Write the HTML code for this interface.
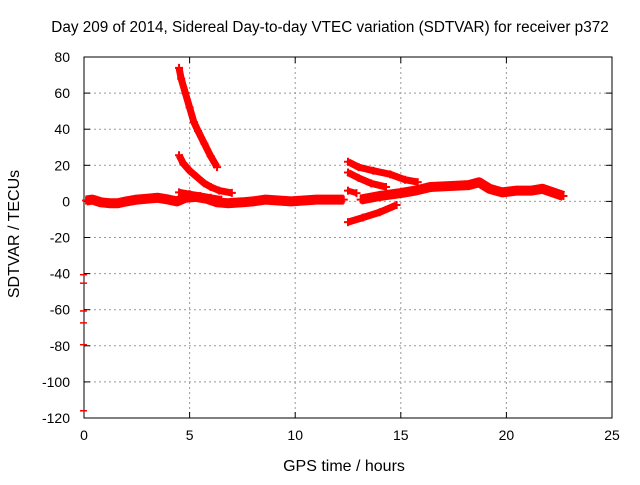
<!DOCTYPE html>
<html><head><meta charset="utf-8"><style>
body{margin:0;background:#fff}
svg text{font-family:"Liberation Sans",sans-serif;font-size:14px;fill:#000}
svg text.big{font-size:16px}
svg text.title{font-size:15.3px}
</style></head><body>
<svg id="chart" width="640" height="480" xmlns="http://www.w3.org/2000/svg">
<rect width="640" height="480" fill="#fff"/>
<text class="title" x="330" y="32" text-anchor="middle">Day 209 of 2014, Sidereal Day-to-day VTEC variation (SDTVAR) for receiver p372</text>
<g id="grid"></g>
<g id="axes"></g>
<g id="marks"></g>
<text class="big" x="344" y="471" text-anchor="middle">GPS time / hours</text>
<text class="big" transform="translate(19,234) rotate(-90)" text-anchor="middle">SDTVAR / TECUs</text>
</svg>
<script>
const xTicks=[0,5,10,15,20,25];
const yTicks=[80,60,40,20,0,-20,-40,-60,-80,-100,-120];
const baseline=[[0.1,0.5],[0.4,1],[0.8,-0.5],[1.2,-1],[1.6,-1],[2,0],[2.5,1],[3,1.5],[3.5,2],[4,1],[4.4,0],[4.8,2],[5.3,2.5],[5.8,1.5],[6.3,-0.5],[6.8,-1],[7.5,-0.5],[8,0],[8.6,1],[9.2,0.5],[9.8,0],[10.4,0.5],[11,1],[11.6,1],[12.3,1]];
const arcHigh=[[4.5,74],[4.6,68],[4.8,60],[5,52],[5.2,44],[5.4,39],[5.7,32],[6,25],[6.3,19]];
const arcMid=[[4.5,25.6],[4.7,21],[5,17],[5.3,14],[5.7,10],[6,8],[6.4,6],[7,4.7]];
const arcLow=[[4.5,5],[5,4],[5.5,3],[6,2],[6.5,1]];
const rArc1=[[12.5,22],[13,19],[13.7,17],[14.5,15],[15.2,12],[15.8,10.7]];
const rArc2=[[12.5,16],[13,13],[13.6,10],[14.3,8]];
const rArc3=[[12.5,6],[12.9,4.6]];
const rArcNeg=[[12.5,-11.5],[13.2,-9],[14,-6],[14.8,-2]];
const rMain=[[13.1,1],[14,3],[15,4.6],[15.7,6],[16.4,8],[17.3,8.5],[18.2,9],[18.7,10.6],[19.2,7],[19.8,5],[20.5,6],[21.2,6],[21.7,7],[22.2,5],[22.7,3]];
const strays=[[0,-40.6],[0,-45.3],[0,-60.7],[0,-67.3],[0,-79.4],[0,-116]];
const series=[baseline,arcHigh,arcMid,arcLow,rArc1,rArc2,rArc3,rArcNeg,rMain];
const widths=[10,7,7,7,7,7,6,7,10];
const X0=84,X1=612,Y0=57,Y1=418;
const sx=v=>X0+(v-0)/(25-0)*(X1-X0);
const sy=v=>Y1-(v+120)/(200)*(Y1-Y0);
const NS="http://www.w3.org/2000/svg";
function mk(t,a,p){const e=document.createElementNS(NS,t);for(const k in a)e.setAttribute(k,a[k]);p.appendChild(e);return e;}
const grid=document.getElementById('grid'),axes=document.getElementById('axes'),marks=document.getElementById('marks');
xTicks.forEach(t=>{const x=sx(t);
 if(t>0&&t<25){const l=mk('line',{x1:x,y1:Y0,x2:x,y2:Y1,stroke:'#999','stroke-dasharray':'2,3'},grid);}
 mk('line',{x1:x,y1:Y1,x2:x,y2:Y1-6,stroke:'#000'},axes);mk('line',{x1:x,y1:Y0,x2:x,y2:Y0+6,stroke:'#000'},axes);
 const tx=mk('text',{x:x,y:Y1+22,'text-anchor':'middle'},axes);tx.textContent=t;});
yTicks.forEach(t=>{const y=sy(t);
 if(t<80&&t>-120){const l=mk('line',{x1:X0,y1:y,x2:X1,y2:y,stroke:'#999','stroke-dasharray':'2,3'},grid);}
 mk('line',{x1:X0,y1:y,x2:X0+6,y2:y,stroke:'#000'},axes);mk('line',{x1:X1,y1:y,x2:X1-6,y2:y,stroke:'#000'},axes);
 const tx=mk('text',{x:X0-14,y:y+5,'text-anchor':'end'},axes);tx.textContent=t;});
const fr=mk('rect',{x:X0,y:Y0,width:X1-X0,height:Y1-Y0,fill:'none',stroke:'#000'},axes);

series.forEach((s,i)=>{
 const pl=mk('polyline',{points:s.map(p=>sx(p[0])+','+sy(p[1])).join(' '),fill:'none',stroke:'#f00','stroke-width':widths[i],'stroke-linejoin':'round'},marks);
 
 s.forEach(p=>{const x=sx(p[0]),y=sy(p[1]);
  const g=mk('path',{d:`M${x-4},${y}H${x+4}M${x},${y-4}V${y+4}`,stroke:'#f00','stroke-width':2},marks);
  });
});
strays.forEach(p=>{const x=sx(p[0]),y=sy(p[1]);
 const g=mk('path',{d:`M${x-4},${y}H${x+3}`,stroke:'#f00','stroke-width':1.5},marks);
 });
</script>
</body></html>
